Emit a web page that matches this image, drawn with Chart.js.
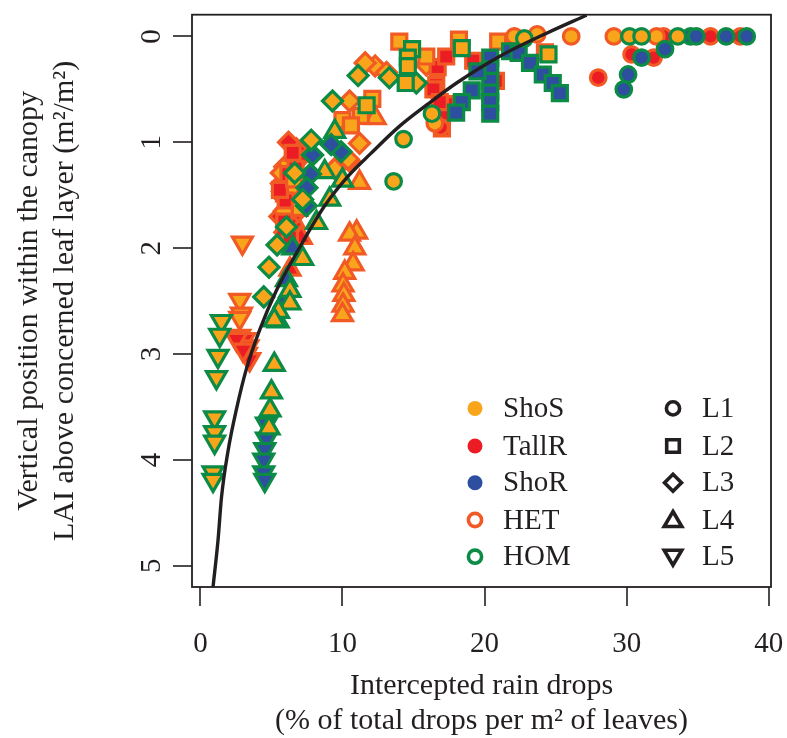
<!DOCTYPE html>
<html><head><meta charset="utf-8">
<script src="https://cdn.jsdelivr.net/npm/chart.js@4"></script>
<style>html,body{margin:0;padding:0;background:#fff;}#wrap{width:787px;height:738px;position:relative;}</style>
</head><body><div id="wrap"><canvas id="c" width="787" height="738"></canvas></div>
<script>
const xTicks = [0, 10, 20, 30, 40];
const yTicks = [0, 1, 2, 3, 4, 5];
const xTitle = ['Intercepted rain drops', '(% of total drops per m\u00b2 of leaves)'];
const yTitle = ['Vertical position within the canopy', 'LAI above concerned leaf layer (m\u00b2/m\u00b2)'];
const fillLabels = ['ShoS', 'TallR', 'ShoR'];
const borderLabels = ['HET', 'HOM'];
const layerLabels = ['L1', 'L2', 'L3', 'L4', 'L5'];

// fitted curve
const curve = [[0.89,5.2],[1.24,4.76],[1.48,4.36],[1.94,3.92],[2.54,3.52],[3.24,3.14],[4.18,2.77],[5.35,2.4],[7.0,1.99],[8.75,1.6],[10.4,1.32],[12.0,1.105],[14.0,0.85],[16.0,0.64],[18.03,0.44],[21.08,0.187],[24.37,-0.03],[27.18,-0.2]];

// L1 circles
const ShoS_HET_L1 = [[22.1,0.0],[23.7,-0.02],[26.1,0.0],[29.1,0.0],[32.1,0.0],[16.5,0.82]];
const TallR_HET_L1 = [[32.6,0.0],[35.9,0.0],[38.0,0.0],[30.35,0.17],[31.9,0.2],[28.0,0.39],[16.9,0.86]];
const ShoS_HOM_L1 = [[22.8,0.02],[30.2,0.0],[31.05,0.0],[33.6,0.0],[16.3,0.73],[14.3,0.97],[13.6,1.37]];
const ShoR_HOM_L1 = [[34.5,0.0],[34.9,0.0],[37.0,0.0],[38.45,0.0],[31.05,0.2],[32.7,0.12],[30.1,0.36],[29.8,0.5]];
// L2 squares
const ShoS_HET_L2 = [[14.0,0.05],[15.9,0.19],[18.2,0.03],[20.96,0.05],[24.25,0.15],[11.3,0.75],[10.0,0.79],[10.6,0.84],[12.1,0.59],[6.6,1.35],[7.0,1.62]];
const TallR_HET_L2 = [[16.6,0.46],[16.7,0.29],[17.3,0.19],[19.2,0.23],[17.3,0.64],[17.0,0.75],[17.0,0.87],[20.8,0.42],[16.4,0.5],[16.85,0.62],[6.5,1.1],[6.2,1.3],[6.0,1.55],[5.9,1.75],[6.3,1.9],[5.6,1.45],[6.7,1.25]];
const ShoS_HOM_L2 = [[14.9,0.12],[14.6,0.2],[14.6,0.28],[14.45,0.44],[18.4,0.11],[24.5,0.17],[11.7,0.65]];
const ShoR_HOM_L2 = [[20.4,0.2],[20.4,0.31],[20.4,0.42],[20.4,0.53],[20.4,0.62],[20.4,0.73],[19.5,0.33],[19.1,0.51],[18.4,0.62],[18.0,0.72],[21.8,0.14],[22.4,0.155],[23.2,0.25],[24.1,0.36],[24.8,0.44],[25.3,0.535]];
// L3 diamonds
const ShoS_HET_L3 = [[12.3,0.28],[11.6,0.25],[13.1,0.34],[15.9,0.27],[10.5,0.61],[11.2,1.01],[10.5,1.18],[9.6,1.23],[10.4,1.16],[9.46,1.25],[5.7,1.29],[6.5,1.42],[6.2,1.2],[5.9,1.65]];
const TallR_HET_L3 = [[6.76,1.06],[5.94,1.23],[5.7,1.39],[5.8,1.51],[6.06,1.63],[6.3,1.73],[5.94,1.85],[6.87,1.17],[6.76,1.46],[6.4,1.6],[6.87,1.65],[6.2,1.0],[5.6,1.7]];
const ShoS_HOM_L3 = [[11.1,0.37],[9.3,0.61],[13.3,0.39],[15.2,0.44],[7.8,0.98],[6.64,1.29],[7.2,1.54],[6.06,1.8],[5.4,1.97],[4.83,2.18],[4.46,2.46]];
const ShoR_HOM_L3 = [[9.9,1.09],[9.2,1.02],[7.9,1.12],[7.75,1.3],[7.5,1.43],[7.46,1.6]];
// L4 triangles
const ShoS_HET_L4 = [[11.2,1.38],[12.3,0.77],[11.0,1.85],[10.5,1.87],[10.87,2.0],[10.75,2.15],[10.16,2.23],[10.04,2.35],[10.1,2.44],[10.04,2.54],[10.0,2.63]];
const TallR_HET_L4 = [[6.4,1.63],[6.1,1.5],[6.6,1.75],[7.1,1.9],[6.3,2.2],[5.8,1.4]];
const ShoS_HOM_L4 = [[9.46,0.9],[10.0,1.36],[8.75,1.28],[8.17,1.76],[9.1,1.54],[7.2,2.1],[6.3,2.4],[6.3,2.52],[5.5,2.6],[5.2,2.68],[5.2,3.1],[5.0,3.36],[4.9,3.53],[4.83,3.7]];
const ShoR_HOM_L4 = [[5.47,2.69],[6.06,2.3],[5.9,2.5],[6.5,2.0]];
// L5 inverted triangles
const ShoS_HET_L5 = [[2.96,1.95],[2.77,2.49],[2.89,2.62],[2.77,2.66]];
const TallR_HET_L5 = [[2.77,2.83],[3.12,2.86],[3.35,2.93],[3.24,3.0],[2.54,2.86],[3.47,3.05],[3.0,2.96]];
const ShoS_HOM_L5 = [[1.48,2.69],[1.36,2.82],[1.24,3.02],[1.13,3.22],[1.0,3.6],[1.0,3.74],[1.0,3.83],[0.89,4.12],[0.89,4.19]];
const ShoR_HOM_L5 = [[4.65,3.66],[4.65,3.8],[4.53,3.9],[4.46,4.0],[4.46,4.12],[4.53,4.19]];

const FILL = {ShoS:'#F9A51B', TallR:'#EC1C24', ShoR:'#2E4E9F'};
const EDGE = {HET:'#F15A24', HOM:'#0B8B45'};
const SHAPE = {
  L1:{style:'circle', r:7.8, rot:0},
  L2:{style:'rect', r:10.6, rot:0},
  L3:{style:'rectRot', r:10, rot:0},
  L4:{style:'triangle', r:11.5, rot:0},
  L5:{style:'triangle', r:11.5, rot:180}
};
const INK = '#231F20';
const FONT = 'Liberation Serif, Times New Roman, serif';

const groups = [
  ['ShoS','HOM','L1',ShoS_HOM_L1],['ShoR','HOM','L1',ShoR_HOM_L1],
  ['ShoS','HOM','L2',ShoS_HOM_L2],['ShoR','HOM','L2',ShoR_HOM_L2],
  ['ShoS','HOM','L3',ShoS_HOM_L3],['ShoR','HOM','L3',ShoR_HOM_L3],
  ['ShoS','HOM','L4',ShoS_HOM_L4],['ShoR','HOM','L4',ShoR_HOM_L4],
  ['ShoS','HOM','L5',ShoS_HOM_L5],['ShoR','HOM','L5',ShoR_HOM_L5],
  ['ShoS','HET','L1',ShoS_HET_L1],['TallR','HET','L1',TallR_HET_L1],
  ['ShoS','HET','L2',ShoS_HET_L2],['TallR','HET','L2',TallR_HET_L2],
  ['ShoS','HET','L3',ShoS_HET_L3],['TallR','HET','L3',TallR_HET_L3],
  ['ShoS','HET','L4',ShoS_HET_L4],['TallR','HET','L4',TallR_HET_L4],
  ['ShoS','HET','L5',ShoS_HET_L5],['TallR','HET','L5',TallR_HET_L5]
];

const datasets = [{
  type:'line', label:'fit', data: curve.map(p=>({x:p[0], y:p[1]})),
  borderColor: INK, borderWidth: 3.4, pointRadius: 0, fill:false,
  cubicInterpolationMode:'monotone'
}];
groups.forEach(g => {
  const s = SHAPE[g[2]];
  datasets.push({
    type:'scatter', label: g[0]+' '+g[1]+' '+g[2],
    data: g[3].map(p=>({x:p[0], y:p[1]})),
    backgroundColor: FILL[g[0]], borderColor: EDGE[g[1]], borderWidth: 3.2,
    pointStyle: s.style, pointRadius: s.r, pointRotation: s.rot, pointHoverRadius: s.r
  });
});

const framePlugin = {
  id:'frame',
  afterDatasetsDraw(chart){
    const {ctx, chartArea:a} = chart;
    ctx.save();
    ctx.strokeStyle = INK; ctx.lineWidth = 1.8;
    ctx.strokeRect(a.left, a.top, a.right - a.left, a.bottom - a.top);
    // legend
    const rowsY = [401.7, 439.3, 476, 513.3, 550].map(v => v - 8 + a.top);
    const lx = a.left + 283, ltx = a.left + 311, rx = a.left + 481, rtx = a.left + 510;
    ctx.font = '29px ' + FONT; ctx.fillStyle = INK; ctx.textBaseline = 'middle'; ctx.textAlign = 'left';
    const left = [['ShoS','fill',FILL.ShoS],['TallR','fill',FILL.TallR],['ShoR','fill',FILL.ShoR],['HET','ring',EDGE.HET],['HOM','ring',EDGE.HOM]];
    left.forEach((it, i) => {
      const y = rowsY[i];
      ctx.beginPath();
      if (it[1] === 'fill') { ctx.arc(lx, y, 7.5, 0, Math.PI*2); ctx.fillStyle = it[2]; ctx.fill(); }
      else { ctx.arc(lx, y, 6.6, 0, Math.PI*2); ctx.strokeStyle = it[2]; ctx.lineWidth = 3.6; ctx.stroke(); }
      ctx.fillStyle = INK; ctx.fillText(it[0], ltx, y + 1);
    });
    layerLabels.forEach((lab, i) => {
      const y = rowsY[i];
      ctx.strokeStyle = INK; ctx.lineWidth = 3.6; ctx.lineJoin = 'miter';
      ctx.beginPath();
      if (i === 0) ctx.arc(rx, y, 6.6, 0, Math.PI*2);
      else if (i === 1) ctx.rect(rx - 6.3, y - 6.3, 12.6, 12.6);
      else if (i === 2) { ctx.moveTo(rx, y - 8.5); ctx.lineTo(rx + 8.5, y); ctx.lineTo(rx, y + 8.5); ctx.lineTo(rx - 8.5, y); ctx.closePath(); }
      else if (i === 3) { ctx.moveTo(rx, y - 8.5); ctx.lineTo(rx + 8.8, y + 6.5); ctx.lineTo(rx - 8.8, y + 6.5); ctx.closePath(); }
      else { ctx.moveTo(rx, y + 8.5); ctx.lineTo(rx + 8.8, y - 6.5); ctx.lineTo(rx - 8.8, y - 6.5); ctx.closePath(); }
      ctx.stroke();
      ctx.fillStyle = INK; ctx.fillText(lab, rtx, y + 1);
    });
    // rotated y tick labels
    const ys = chart.scales.y;
    ctx.font = '29px ' + FONT; ctx.textAlign = 'center'; ctx.textBaseline = 'middle'; ctx.fillStyle = INK;
    ys.ticks.forEach(t => {
      const py = ys.getPixelForValue(t.value);
      ctx.save(); ctx.translate(152, py); ctx.rotate(-Math.PI/2); ctx.fillText(String(t.value), 0, 0); ctx.restore();
    });
    ctx.restore();
  }
};

new Chart(document.getElementById('c'), {
  type:'scatter',
  data:{datasets},
  options:{
    responsive:false, animation:false, devicePixelRatio:1, events:[],
    layout:{padding:{left:0, right:16, top:8, bottom:0}},
    plugins:{legend:{display:false}, tooltip:{enabled:false}},
    scales:{
      x:{type:'linear', min:-0.59, max:40.16,
        afterBuildTicks:s=>{ s.ticks = xTicks.map(v=>({value:v})); },
        afterFit:s=>{ s.height = 151; s.paddingLeft = 0; s.paddingRight = 0; },
        grid:{display:true, drawOnChartArea:false, drawTicks:true, tickLength:19, tickWidth:1.6, tickColor:INK, lineWidth:0},
        border:{display:false},
        ticks:{font:{family:FONT, size:29}, color:INK, padding:21, maxRotation:0, minRotation:0, autoSkip:false},
        title:{display:true, text:xTitle, color:INK, font:{family:FONT, size:30, lineHeight:1.15}, padding:{top:0, bottom:0}}
      },
      y:{type:'linear', reverse:true, min:-0.205, max:5.2,
        afterBuildTicks:s=>{ s.ticks = yTicks.map(v=>({value:v})); },
        afterFit:s=>{ s.width = 192; s.paddingTop = 0; s.paddingBottom = 0; },
        grid:{display:true, drawOnChartArea:false, drawTicks:true, tickLength:19, tickWidth:1.6, tickColor:INK, lineWidth:0},
        border:{display:false},
        ticks:{display:false},
        title:{display:true, text:yTitle, color:INK, font:{family:FONT, size:30, lineHeight:1.2}, padding:{top:11, bottom:0}}
      }
    }
  },
  plugins:[framePlugin]
});
</script></body></html>
